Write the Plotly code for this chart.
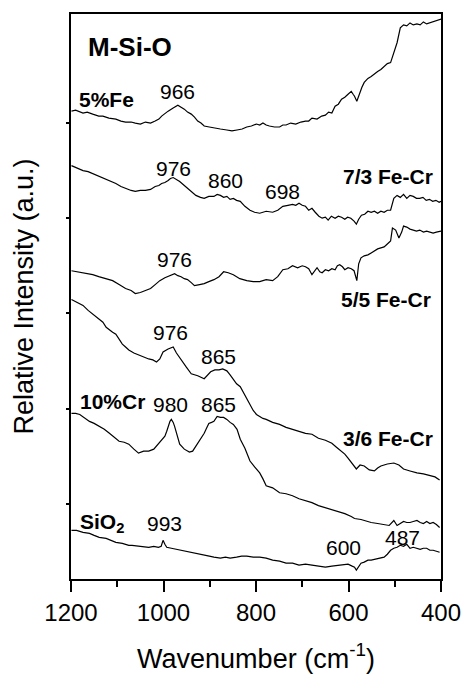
import plotly.graph_objects as go

# ---- data (wavenumber cm^-1, relative intensity a.u.) ----
fe5_x = [1199,1190,1174,1165,1153,1140,1131,1118,1103,1092,1082,1070,1061,1050,1039,1028,1018,1010,1004,997,990,980,969,962,955,948,940,933,926,919,912,901,891,877,863,852,841,830,820,810,799,792,785,778,771,760,749,742,735,725,714,703,693,686,679,668,658,650,643,636,629,622,615,608,601,597,594,590,587,582,576,571,566,558,551,544,537,530,523,516,509,502,495,488,481,474,467,460,452,445,438,431,424,417,410,403,399]
fe5_y = [472,473,470,471,469,467,467,465,464,462,461,461,460,459,461,460,462,464,467,470,472,475,478,476,474,471,469,466,462,460,457,456,455,454,453,452,453,454,456,457,459,458,460,458,457,456,456,458,458,460,459,461,462,462,465,464,467,468,471,470,477,479,484,486,489,491,492,489,487,482,491,496,501,505,507,510,512,514,517,520,521,531,541,556,559,558,561,559,560,559,562,560,561,562,563,564,565,564,567]

c73_x = [1199,1188,1174,1163,1153,1140,1131,1117,1103,1092,1082,1070,1061,1050,1039,1028,1018,1010,1004,997,990,985,979,972,965,955,948,940,930,920,912,902,891,884,877,870,863,856,849,842,834,824,813,803,792,778,764,753,742,731,721,714,707,700,693,686,679,672,664,657,650,644,637,629,622,615,608,602,595,588,583,578,572,565,558,551,544,537,530,523,516,509,502,495,488,481,474,467,460,453,446,439,432,425,418,411,404,400]
c73_y = [417,415,412,411,409,406,404,401,399,396,394,392,391,392,392,393,396,397,399,400,402,404,405,403,401,397,394,391,387,385,384,386,386,388,387,385,386,383,384,382,381,376,372,370,369,371,370,372,376,377,378,377,379,377,376,372,374,370,366,364,365,362,366,364,366,365,363,365,364,361,358,363,367,368,371,370,371,369,371,370,372,372,384,387,385,388,384,387,386,384,384,385,382,383,381,382,380,381,381,381]

c55_x = [1199,1188,1174,1163,1153,1140,1131,1120,1110,1096,1082,1070,1061,1050,1039,1028,1018,1008,997,986,976,969,962,955,948,940,933,922,912,902,891,880,870,860,849,835,820,806,792,778,764,753,742,731,721,710,700,693,686,679,672,668,662,657,650,643,636,629,624,619,613,608,601,594,588,582,578,573,566,558,551,544,537,530,523,516,509,505,498,491,485,481,474,467,460,453,446,438,431,424,417,410,403,400]
c55_y = [311,310,309,308,307,305,304,302,301,297,293,291,288,289,291,293,297,301,304,306,308,306,305,303,302,299,296,297,298,300,302,305,310,309,307,303,301,300,300,302,301,305,312,313,316,314,316,315,313,307,312,314,310,309,312,311,313,312,316,317,315,312,314,313,311,301,318,324,326,327,329,331,333,334,335,338,341,354,352,344,350,356,355,353,352,351,352,350,351,350,349,350,351,351]

c36_x = [1199,1188,1174,1163,1153,1142,1131,1124,1117,1110,1103,1096,1089,1082,1075,1064,1054,1043,1032,1023,1015,1008,1001,990,979,972,962,951,940,926,912,905,898,889,880,872,863,856,849,842,834,827,820,813,806,799,792,785,778,764,749,735,721,707,693,679,665,650,636,626,615,608,601,592,583,575,566,555,544,537,530,516,502,491,481,467,452,438,424,413,403]
c36_y = [282,279,276,271,267,263,259,254,251,249,247,242,237,234,231,228,226,224,222,221,219,222,229,232,234,228,221,214,207,205,202,205,209,211,211,212,210,206,201,197,194,188,182,175,170,166,164,162,161,158,156,153,151,149,147,146,142,140,137,133,129,126,122,117,111,115,114,110,109,112,114,116,117,115,111,109,107,106,104,103,100]

cr10_x = [1199,1190,1181,1170,1160,1150,1139,1128,1117,1106,1096,1085,1075,1064,1054,1043,1032,1021,1011,1004,997,993,989,986,983,979,976,970,965,955,944,937,930,921,912,907,902,896,891,884,877,870,863,856,849,841,834,824,813,803,792,785,778,764,749,735,721,707,693,679,665,650,636,622,608,594,587,573,558,551,537,523,512,502,495,488,481,474,467,460,452,445,438,431,424,417,410,403]
cr10_y = [167,167,166,162,159,157,154,151,147,143,139,138,136,131,127,129,129,131,136,140,144,149,156,159,161,158,154,145,136,131,128,129,134,140,147,152,157,158,159,164,163,163,161,158,156,151,141,132,119,113,107,101,94,92,87,86,84,81,79,77,74,72,70,68,66,63,61,60,58,57,56,55,54,59,54,56,58,57,57,58,59,57,56,58,56,57,55,52]

si_x = [1199,1188,1174,1160,1150,1139,1124,1110,1103,1089,1075,1068,1054,1040,1032,1021,1011,1005,1001,997,993,983,972,962,948,937,926,912,901,891,877,866,856,842,831,820,806,792,778,764,749,735,721,707,693,679,665,650,636,622,611,601,592,587,583,578,573,566,558,551,541,530,523,516,509,502,495,488,481,474,467,460,452,445,438,431,424,417,410,403]
si_y = [49,49,47,46,44,42,41,38,37,36,34,34,33,32,32,33,32,33,39,35,32,31,30,29,28,27,26,24,23,22,21,22,21,22,23,23,22,22,21,19,18,16,16,14,15,14,13,12,13,14,15,15,13,12,9,12,16,17,19,19,20,21,22,25,29,31,32,34,33,35,31,32,31,30,31,31,29,29,28,27]

series = [(fe5_x, fe5_y), (c73_x, c73_y), (c55_x, c55_y),
          (c36_x, c36_y), (cr10_x, cr10_y), (si_x, si_y)]

# labels: (text, x, y, kind)
label_text = ["M-Si-O", "5%Fe", "966", "976", "860", "698", "7/3 Fe-Cr",
              "976", "5/5 Fe-Cr", "976", "865", "10%Cr", "980", "865",
              "3/6 Fe-Cr", "SiO<sub>2</sub>", "993", "600", "487"]
label_x = [1073, 1187, 969, 978, 867, 742, 413, 977, 417, 984, 882, 1185, 984, 882, 413, 1185, 998, 610, 483]
label_y = [537, 484, 492, 414, 402, 391, 406, 322, 282, 249, 224, 179, 176, 176, 142, 57, 56, 32, 42]
label_kind = ["title", "b", "n", "n", "n", "n", "br", "n", "br", "n", "n", "b", "n", "n", "br", "b", "n", "n", "n"]

FONT = "Liberation Sans, Arial, sans-serif"

fig = go.Figure()
for xs, ys in series:
    fig.add_trace(go.Scatter(x=xs, y=ys, mode="lines",
                             line=dict(color="black", width=1.2),
                             showlegend=False, hoverinfo="skip"))

for t, x, y, k in zip(label_text, label_x, label_y, label_kind):
    if k == "title":
        txt, size, anchor = "<b>" + t + "</b>", 26, "center"
    elif k == "b":
        txt, size, anchor = "<b>" + t + "</b>", 21, "left"
    elif k == "br":
        txt, size, anchor = "<b>" + t + "</b>", 21, "right"
    else:
        txt, size, anchor = t, 21, "center"
    fig.add_annotation(x=x, y=y, text=txt, showarrow=False, xanchor=anchor,
                       yanchor="middle", font=dict(family=FONT, size=size, color="black"))

fig.update_layout(
    width=473, height=681,
    margin=dict(l=71, r=25, t=14, b=97),
    paper_bgcolor="white", plot_bgcolor="white",
    font=dict(family=FONT, color="black"),
)
fig.update_xaxes(
    range=[1200, 400], tick0=400, dtick=200,
    showline=True, linecolor="black", linewidth=1.8, mirror=True,
    ticks="outside", ticklen=11, tickwidth=1.8, tickcolor="black",
    minor=dict(dtick=100, ticks="outside", ticklen=6, tickwidth=1.8, tickcolor="black"),
    showgrid=False, zeroline=False,
    tickfont=dict(family=FONT, size=24, color="black"),
    title=dict(text="Wavenumber (cm<sup>-1</sup>)", font=dict(family=FONT, size=27, color="black"), standoff=24),
)
fig.update_yaxes(
    range=[0, 570], tickvals=[76, 172, 268, 364, 460], showticklabels=False,
    showline=True, linecolor="black", linewidth=1.8, mirror=True,
    ticks="outside", ticklen=3, tickwidth=1.5, tickcolor="black",
    showgrid=False, zeroline=False,
    title=dict(text="Relative Intensity (a.u.)", font=dict(family=FONT, size=27, color="black"), standoff=25),
)

fig.write_html("out.html")
